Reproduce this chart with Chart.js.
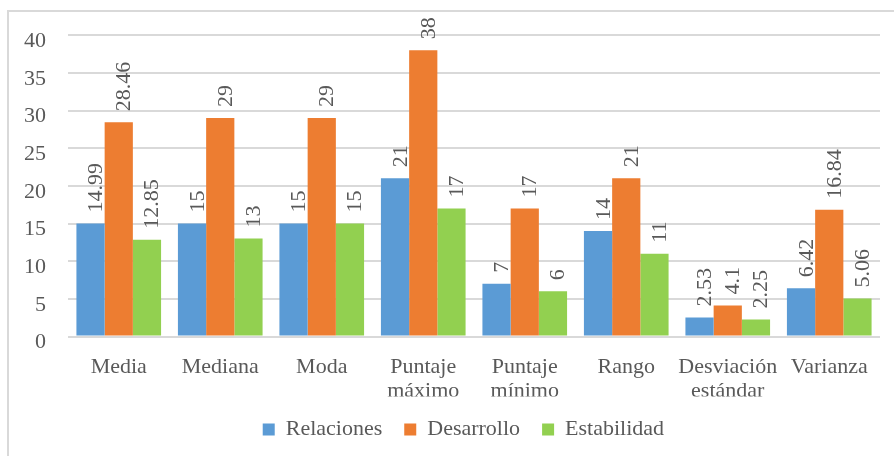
<!DOCTYPE html>
<html>
<head>
<meta charset="utf-8">
<script src="https://cdn.jsdelivr.net/npm/chart.js@4/dist/chart.umd.min.js"></script>
<style>
  html, body { margin: 0; padding: 0; background: #fff; }
  #wrap { position: relative; width: 894px; height: 456px; overflow: hidden; }
  #frame { position: absolute; left: 7px; top: 10px; width: 1000px; height: 1000px; border: 2px solid #d9d9d9; box-sizing: border-box; }
  #c { position: absolute; left: 0; top: 0; }
</style>
</head>
<body>
<div id="wrap">
  <div id="frame"></div>
  <canvas id="c" width="894" height="456"></canvas>
</div>
<script>
const categories = [
  "Media", "Mediana", "Moda", ["Puntaje", "máximo"], ["Puntaje", "mínimo"],
  "Rango", ["Desviación", "estándar"], "Varianza"
];
const relaciones  = [14.99, 15, 15, 21, 7, 14, 2.53, 6.42];
const desarrollo  = [28.46, 29, 29, 38, 17, 21, 4.1, 16.84];
const estabilidad = [12.85, 13, 15, 17, 6, 11, 2.25, 5.06];
const seriesNames = ["Relaciones", "Desarrollo", "Estabilidad"];
const yTicks = { min: 0, max: 40, step: 5 };

const FONT = "'Liberation Serif'";
const TEXT = "#595959";
const FS = 22;

const valueLabels = {
  id: 'valueLabels',
  afterDatasetsDraw(chart) {
    const ctx = chart.ctx;
    ctx.save();
    ctx.font = FS + "px " + FONT;
    ctx.fillStyle = TEXT;
    ctx.textAlign = 'left';
    ctx.textBaseline = 'alphabetic';
    chart.data.datasets.forEach((ds, di) => {
      const meta = chart.getDatasetMeta(di);
      meta.data.forEach((bar, i) => {
        const v = ds.data[i];
        ctx.save();
        ctx.translate(bar.x + 11.5, bar.y - 11);
        ctx.rotate(-Math.PI / 2);
        ctx.fillText(String(v), 0, 0);
        ctx.restore();
      });
    });
    ctx.restore();
  }
};

// shift the legend block slightly right, as in the original layout
const legendShift = {
  id: 'legendShift',
  afterLayout(chart) {
    if (chart.legend) {
      chart.legend.left += 23.4;
      chart.legend.right += 23.4;
    }
  }
};

new Chart(document.getElementById('c'), {
  type: 'bar',
  data: {
    labels: categories,
    datasets: [
      { label: seriesNames[0], data: relaciones,  backgroundColor: '#5B9BD5' },
      { label: seriesNames[1], data: desarrollo,  backgroundColor: '#ED7D31' },
      { label: seriesNames[2], data: estabilidad, backgroundColor: '#92D050' }
    ]
  },
  options: {
    responsive: false,
    animation: false,
    devicePixelRatio: 1,
    layout: { padding: { top: 34.5, right: 14, bottom: 5.5, left: 0 } },
    datasets: { bar: { categoryPercentage: 0.834, barPercentage: 1.0 } },
    plugins: {
      legend: {
        position: 'bottom',
        labels: {
          font: { family: FONT, size: FS },
          color: TEXT,
          boxWidth: 12,
          boxHeight: 12,
          padding: 22
        }
      },
      tooltip: { enabled: false }
    },
    scales: {
      x: {
        grid: { display: false, drawTicks: false },
        border: { display: false },
        ticks: {
          font: { family: FONT, size: FS, lineHeight: 1.09 },
          color: TEXT,
          padding: 18.5,
          maxRotation: 0,
          autoSkip: false
        },
        afterFit(scale) { scale.height = 60; }
      },
      y: {
        min: yTicks.min,
        max: yTicks.max,
        grid: { color: '#d9d9d9', lineWidth: 2, drawTicks: false },
        border: { display: false },
        ticks: {
          stepSize: yTicks.step,
          font: { family: FONT, size: FS },
          color: TEXT,
          padding: 22,
          labelOffset: 6
        },
        afterFit(scale) { scale.width = 68; }
      }
    }
  },
  plugins: [valueLabels, legendShift]
});
</script>
</body>
</html>
